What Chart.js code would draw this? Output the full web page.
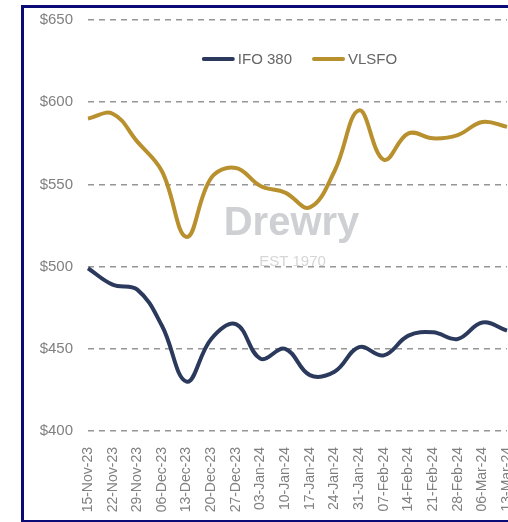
<!DOCTYPE html>
<html>
<head>
<meta charset="utf-8">
<script src="https://cdn.jsdelivr.net/npm/chart.js@4.4.1/dist/chart.umd.min.js"></script>
<style>
  html, body { margin: 0; padding: 0; width: 508px; height: 522px; overflow: hidden; background: #fff; }
  #frame { position: absolute; left: 21px; top: 5px; width: 560px; height: 512px; border: 3px solid #0b0b78; background: #fff; }
  #chart { position: absolute; left: 0; top: 0; }
</style>
</head>
<body>
<div id="frame"><canvas id="chart" width="540" height="511"></canvas></div>
<script>
const weeks = ['15-Nov-23', '22-Nov-23', '29-Nov-23', '06-Dec-23', '13-Dec-23', '20-Dec-23', '27-Dec-23',
  '03-Jan-24', '10-Jan-24', '17-Jan-24', '24-Jan-24', '31-Jan-24', '07-Feb-24', '14-Feb-24',
  '21-Feb-24', '28-Feb-24', '06-Mar-24', '13-Mar-24'];
const ifo380 = [499, 489, 486, 464, 430, 456, 465, 444, 450, 434, 436, 451, 446, 458, 460, 456, 466, 461];
const vlsfo = [590, 593, 576, 558, 518, 554, 560, 549, 545, 536, 558, 595, 565, 581, 578, 580, 588, 585];
const seriesNames = ['IFO 380', 'VLSFO'];
const watermark = ['Drewry', 'EST 1970'];

const FONT = "'Liberation Sans', Arial, sans-serif";
Chart.defaults.font.family = FONT;
Chart.defaults.color = '#808080';

// legend sits inside the plot area (Excel style), plus the faint watermark
const plotExtras = {
  id: 'plotExtras',
  beforeDatasetsDraw(chart) {
    const { ctx, chartArea } = chart;
    const cx = (chartArea.left + chartArea.right) / 2 - 6;
    ctx.save();
    ctx.textAlign = 'center';
    ctx.fillStyle = '#cfd0d3';
    ctx.font = 'bold 40px ' + FONT;
    ctx.fillText(watermark[0], cx, chartArea.top + 215);
    ctx.fillStyle = '#d6d6d6';
    ctx.font = '15px ' + FONT;
    ctx.textBaseline = 'middle';
    ctx.fillText(watermark[1], cx + 1, chartArea.top + 242);
    ctx.restore();
  },
  afterDatasetsDraw(chart) {
    const { ctx, chartArea } = chart;
    const sw = 33, gap = 3, itemGap = 20;
    ctx.save();
    ctx.font = '15px ' + FONT;
    ctx.textBaseline = 'middle';
    const items = chart.data.datasets.map(ds => ({
      text: ds.label, color: ds.borderColor, w: ctx.measureText(ds.label).width
    }));
    const total = items.reduce((s, it) => s + sw + gap + it.w, 0) + itemGap * (items.length - 1);
    let x = (chartArea.left + chartArea.right) / 2 + 2 - total / 2;
    const y = chartArea.top + 39;
    items.forEach(it => {
      ctx.strokeStyle = it.color;
      ctx.lineWidth = 4;
      ctx.lineCap = 'round';
      ctx.beginPath();
      ctx.moveTo(x + 2, y);
      ctx.lineTo(x + sw - 2, y);
      ctx.stroke();
      ctx.fillStyle = '#666666';
      ctx.fillText(it.text, x + sw + gap, y + 1);
      x += sw + gap + it.w + itemGap;
    });
    ctx.restore();
  }
};

new Chart(document.getElementById('chart').getContext('2d'), {
  type: 'line',
  data: {
    labels: weeks,
    datasets: [
      {
        label: seriesNames[0],
        data: ifo380,
        borderColor: '#2b3a5c',
        borderWidth: 4,
        tension: 0.4,
        pointRadius: 0,
        fill: false
      },
      {
        label: seriesNames[1],
        data: vlsfo,
        borderColor: '#b8902e',
        borderWidth: 4,
        tension: 0.4,
        pointRadius: 0,
        fill: false
      }
    ]
  },
  options: {
    responsive: false,
    animation: false,
    devicePixelRatio: 1,
    layout: { padding: { top: 12, right: 57, left: 0, bottom: 0 } },
    plugins: {
      legend: { display: false },
      tooltip: { enabled: false }
    },
    scales: {
      x: {
        offset: false,
        grid: { display: false },
        border: { display: false },
        ticks: {
          autoSkip: false,
          minRotation: 90,
          maxRotation: 90,
          padding: 8,
          color: '#808080',
          font: { size: 14 }
        },
        afterFit(scale) { scale.height = 88; }
      },
      y: {
        min: 400,
        max: 650,
        // invisible tick marks give the label gap without padding the top
        grid: { color: '#969696', lineWidth: 1.5, drawTicks: true, tickLength: 15, tickColor: 'rgba(0,0,0,0)' },
        border: { display: false, dash: [6, 5] },
        ticks: {
          stepSize: 50,
          padding: 0,
          color: '#808080',
          font: { size: 15 },
          callback: v => '$' + v
        },
        afterFit(scale) { scale.width = 64; }
      }
    }
  },
  plugins: [plotExtras]
});
</script>
</body>
</html>
